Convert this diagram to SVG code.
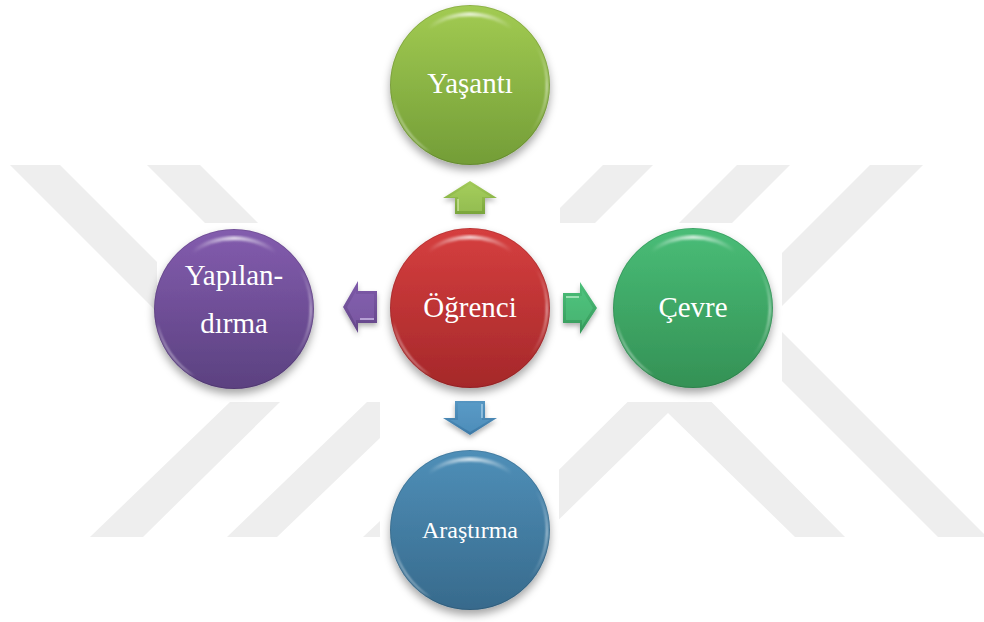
<svg xmlns="http://www.w3.org/2000/svg" xmlns:xlink="http://www.w3.org/1999/xlink" width="984" height="622" viewBox="0 0 984 622">
<style>
.wm{fill:#eeeeee}
.bg{fill:#ffffff}
.lbl{font-family:"Liberation Serif","Times New Roman",serif;font-size:29px;fill:#ffffff;text-anchor:middle}
.sm{font-size:24px}
.arrow{filter:url(#ashadow)}
</style>
<defs>
<filter id="shadow" x="-30%" y="-30%" width="160%" height="170%">
<feDropShadow dx="0" dy="5" stdDeviation="4" flood-color="#000" flood-opacity="0.35"/>
</filter>
<filter id="ashadow" x="-40%" y="-40%" width="180%" height="190%">
<feDropShadow dx="0" dy="3" stdDeviation="2.5" flood-color="#000" flood-opacity="0.3"/>
</filter>
<filter id="soft" x="-20%" y="-20%" width="140%" height="140%">
<feGaussianBlur stdDeviation="1.3"/>
</filter>
<linearGradient id="topHl" x1="0" y1="0" x2="1" y2="0">
<stop offset="0" stop-color="#fff" stop-opacity="0"/>
<stop offset="0.5" stop-color="#fff" stop-opacity="0.75"/>
<stop offset="1" stop-color="#fff" stop-opacity="0"/>
</linearGradient>
<linearGradient id="rimHl" x1="0" y1="0" x2="0" y2="1">
<stop offset="0" stop-color="#fff" stop-opacity="0"/>
<stop offset="0.5" stop-color="#fff" stop-opacity="0.6"/>
<stop offset="1" stop-color="#fff" stop-opacity="0"/>
</linearGradient>
<linearGradient id="gYas" x1="0" y1="0" x2="0" y2="1">
<stop offset="0" stop-color="#a2cb52"/>
<stop offset="1" stop-color="#739d37"/>
</linearGradient>
<linearGradient id="gOgr" x1="0" y1="0" x2="0" y2="1">
<stop offset="0" stop-color="#d63f3f"/>
<stop offset="1" stop-color="#a5282a"/>
</linearGradient>
<linearGradient id="gYap" x1="0" y1="0" x2="0" y2="1">
<stop offset="0" stop-color="#835cae"/>
<stop offset="1" stop-color="#5b4180"/>
</linearGradient>
<linearGradient id="gCev" x1="0" y1="0" x2="0" y2="1">
<stop offset="0" stop-color="#49bd77"/>
<stop offset="1" stop-color="#349155"/>
</linearGradient>
<linearGradient id="gAra" x1="0" y1="0" x2="0" y2="1">
<stop offset="0" stop-color="#4f8fb8"/>
<stop offset="1" stop-color="#376a8c"/>
</linearGradient>
<linearGradient id="aUp" x1="0" y1="0" x2="0" y2="1">
<stop offset="0" stop-color="#a3cb59"/>
<stop offset="1" stop-color="#79a53b"/>
</linearGradient>
<linearGradient id="aLeft" x1="0" y1="0" x2="0" y2="1">
<stop offset="0" stop-color="#7f5bab"/>
<stop offset="1" stop-color="#634687"/>
</linearGradient>
<linearGradient id="aRight" x1="0" y1="0" x2="0" y2="1">
<stop offset="0" stop-color="#4cc07a"/>
<stop offset="1" stop-color="#35985a"/>
</linearGradient>
<linearGradient id="aDown" x1="0" y1="0" x2="0" y2="1">
<stop offset="0" stop-color="#5596c2"/>
<stop offset="1" stop-color="#3d79a6"/>
</linearGradient>
<g id="gloss">
<circle r="79.5" fill="none" stroke="#000" stroke-opacity="0.12" stroke-width="1"/>
<path d="M -42 -57 A 71 71 0 0 1 42 -57" fill="none" stroke="url(#topHl)" stroke-width="4" stroke-linecap="round" filter="url(#soft)"/>
<path d="M -76.8 13.5 A 78 78 0 0 0 -39 67.5 A 92 92 0 0 1 -76.8 13.5 Z" fill="#ffffff" fill-opacity="0.85" filter="url(#soft)"/>
<path d="M 66 -40 A 77 77 0 0 1 60 48" fill="none" stroke="url(#rimHl)" stroke-width="2" filter="url(#soft)"/>
</g>
</defs>

<g id="watermark">
<polygon class="wm" points="10,165 60,165 157,262 157,312"/>
<polygon class="wm" points="147,165 200,165 258,223 205,223"/>
<polygon class="wm" points="90,537 143,537 280,402 230,402"/>
<polygon class="wm" points="227,537 277,537 380,438 380,402 367,402"/>
<polygon class="wm" points="363,537 380,537 380,521"/>
<polygon class="wm" points="603,165 653,165 595,223 560,223 560,208"/>
<polygon class="wm" points="737,165 790,165 732,223 679,223"/>
<polygon class="wm" points="870,165 923,165 769,319 987,537 938,537 718,317"/>
<polygon class="wm" points="670,360 845,537 795,537 668,413 541,537 491,537"/>
<rect class="bg" x="157" y="223" width="625" height="179"/>
<rect class="bg" x="380" y="0" width="179" height="622"/>
</g>

<g id="connectors">
<g class="arrow">
<polygon points="470,181 497,198 485,198 485,214 455,214 455,198 443,198" fill="url(#aUp)"/>
<polygon points="470,184 491,197 482,197 482,211 458,211 458,197 449,197" fill="#a8d060" fill-opacity="0.55"/>
<line x1="458" y1="199" x2="458" y2="211" stroke="#d8ecb0" stroke-width="1.2"/>
</g>
<g class="arrow">
<polygon points="343,307 358,281 358,291 377,291 377,323 358,323 358,333" fill="url(#aLeft)"/>
<polygon points="347,307 356,291 356,294 374,294 374,320 356,320 356,325" fill="#8a66b6" fill-opacity="0.5"/>
<line x1="360" y1="319" x2="374" y2="319" stroke="#cdb8e6" stroke-width="1.5"/>
</g>
<g class="arrow">
<polygon points="597,308 580,282 580,293 563,293 563,323 580,323 580,334" fill="url(#aRight)"/>
<polygon points="593,308 582,290 582,296 566,296 566,320 582,320 582,326" fill="#56c984" fill-opacity="0.5"/>
<line x1="566" y1="297" x2="579" y2="297" stroke="#b8ecc8" stroke-width="1.5"/>
</g>
<g class="arrow">
<polygon points="455,401 485,401 485,418 497,418 470,435 443,418 455,418" fill="url(#aDown)"/>
<polygon points="458,403 482,403 482,420 490,420 470,432 450,420 458,420" fill="#5ea0cc" fill-opacity="0.5"/>
<line x1="482" y1="404" x2="482" y2="418" stroke="#b5d9f0" stroke-width="1.2"/>
</g>
</g>

<g id="node-yasanti" transform="translate(470,85)">
<circle r="80" fill="url(#gYas)" filter="url(#shadow)"/>
<use xlink:href="#gloss" href="#gloss"/>
<text class="lbl" x="0" y="8">Yaşantı</text>
</g>

<g id="node-ogrenci" transform="translate(470,308)">
<circle r="80" fill="url(#gOgr)" filter="url(#shadow)"/>
<use xlink:href="#gloss" href="#gloss"/>
<text class="lbl" x="0" y="9">Öğrenci</text>
</g>

<g id="node-yapilandirma" transform="translate(234,309)">
<circle r="80" fill="url(#gYap)" filter="url(#shadow)"/>
<use xlink:href="#gloss" href="#gloss"/>
<text class="lbl" x="0" y="-24">Yapılan-</text>
<text class="lbl" x="0" y="24">dırma</text>
</g>

<g id="node-cevre" transform="translate(693,308)">
<circle r="80" fill="url(#gCev)" filter="url(#shadow)"/>
<use xlink:href="#gloss" href="#gloss"/>
<text class="lbl" x="0" y="9">Çevre</text>
</g>

<g id="node-arastirma" transform="translate(470,530)">
<circle r="80" fill="url(#gAra)" filter="url(#shadow)"/>
<use xlink:href="#gloss" href="#gloss"/>
<text class="lbl sm" x="0" y="8">Araştırma</text>
</g>
</svg>
